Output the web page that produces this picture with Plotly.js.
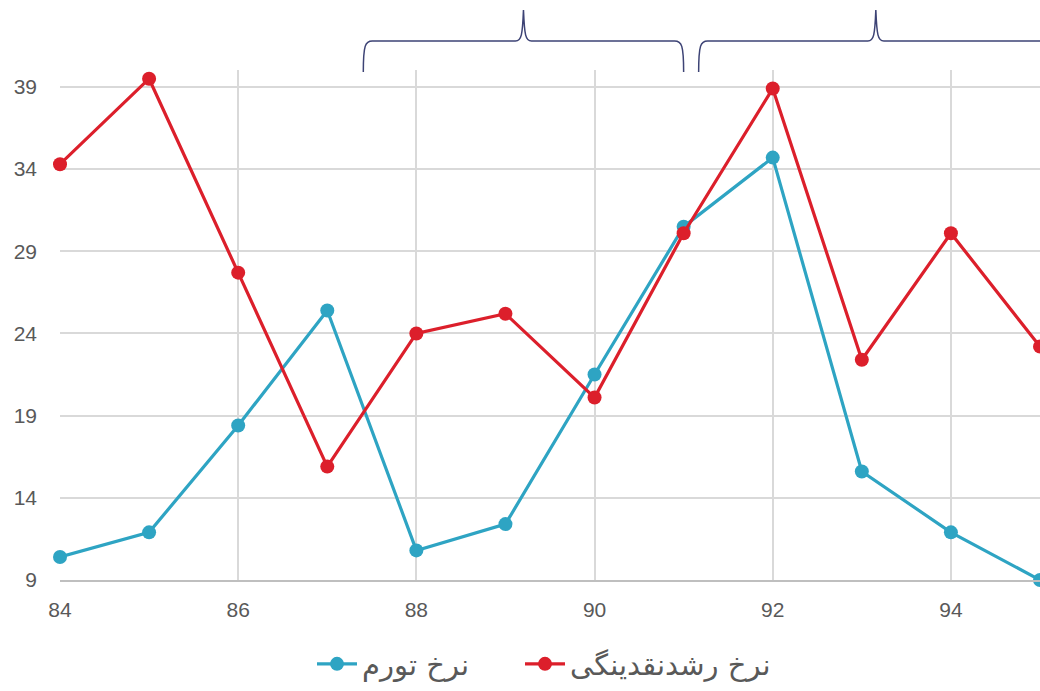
<!DOCTYPE html>
<html>
<head>
<meta charset="utf-8">
<script src="https://cdn.plot.ly/plotly-3.0.1.min.js"></script>
<style>html,body{margin:0;padding:0;background:#fff;}#chart{width:1040px;height:691px;}</style>
</head>
<body>
<div id="chart"></div>
<script>
var years = [84, 85, 86, 87, 88, 89, 90, 91, 92, 93, 94, 95];
var inflation = [10.4, 11.9, 18.4, 25.4, 10.8, 12.4, 21.5, 30.5, 34.7, 15.6, 11.9, 9.0];
var liquidity = [34.3, 39.5, 27.7, 15.9, 24.0, 25.2, 20.1, 30.1, 38.9, 22.4, 30.1, 23.2];
var inflationName = 'نرخ تورم';
var liquidityName = 'نرخ رشدنقدینگی';

// plot geometry (for brace annotations)
var L = 60, R = 1040, T = 70, B = 580, W = 1040, H = 691;
var xmin = 84, xmax = 95, ymin = 9, ymax = 40.03;
function px(x){ return xmin + (x - L) * (xmax - xmin) / (R - L - 1); }
function py(y){ return (B - y) / (B - T); }
function brace(a, m, b){
  var pts = [
    'M', px(a), py(72),
    'C', px(a), py(45), px(a+2), py(41), px(a+9), py(41),
    'L', px(m-8), py(41),
    'C', px(m-2), py(41), px(m-1), py(35), px(m), py(10),
    'C', px(m+1), py(35), px(m+2), py(41), px(m+8), py(41),
    'L', px(b-9), py(41),
    'C', px(b-2), py(41), px(b), py(45), px(b), py(72)
  ];
  var out = '', k = 0;
  while (k < pts.length) {
    if (typeof pts[k] === 'string') { out += pts[k] + ' '; k++; }
    else { out += pts[k].toFixed(4) + ',' + pts[k+1].toFixed(4) + ' '; k += 2; }
  }
  return out.trim();
}

var traces = [
  {
    x: years, y: inflation, name: inflationName, type: 'scatter', mode: 'lines+markers',
    line: {color: '#2ea4c3', width: 3.2}, marker: {color: '#2ea4c3', size: 14},
    cliponaxis: false, legend: 'legend'
  },
  {
    x: years, y: liquidity, name: liquidityName, type: 'scatter', mode: 'lines+markers',
    line: {color: '#dc1f2b', width: 3.2}, marker: {color: '#dc1f2b', size: 14},
    cliponaxis: false, legend: 'legend2'
  }
];

var legendFont = {family: 'DejaVu Sans, Liberation Sans, sans-serif', size: 29, color: '#595959'};
var layout = {
  width: W, height: H,
  margin: {l: L, r: W - R, t: T, b: H - B, pad: 0},
  paper_bgcolor: '#ffffff', plot_bgcolor: '#ffffff',
  font: {family: 'Liberation Sans, Arial, DejaVu Sans, sans-serif', color: '#595959', size: 21},
  showlegend: true,
  legend: {
    orientation: 'h', xref: 'container', yref: 'container',
    x: 312 / W, xanchor: 'left', y: 1 - 664 / H, yanchor: 'middle',
    font: legendFont, itemwidth: 40
  },
  legend2: {
    orientation: 'h', xref: 'container', yref: 'container',
    x: 520 / W, xanchor: 'left', y: 1 - 664 / H, yanchor: 'middle',
    font: legendFont, itemwidth: 40
  },
  xaxis: {
    range: [xmin, xmax], tick0: 84, dtick: 2, showgrid: true, gridcolor: '#d9d9d9', gridwidth: 2,
    zeroline: false, showline: true, linecolor: '#bfbfbf', linewidth: 2,
    ticks: '', ticklabelstandoff: 10, tickfont: {size: 21, color: '#595959'}, fixedrange: true
  },
  yaxis: {
    range: [ymin, ymax], tick0: 9, dtick: 5, showgrid: true, gridcolor: '#d9d9d9', gridwidth: 2,
    zeroline: false, showline: false, ticks: '', ticklabelstandoff: 22,
    tickfont: {size: 21, color: '#595959'}, fixedrange: true
  },
  shapes: [
    {type: 'path', xref: 'x', yref: 'paper', path: brace(363, 523, 683), line: {color: '#3d4375', width: 1.5}},
    {type: 'path', xref: 'x', yref: 'paper', path: brace(698, 875, 1052), line: {color: '#3d4375', width: 1.5}}
  ]
};

Plotly.newPlot('chart', traces, layout, {displayModeBar: false, staticPlot: true});
</script>
</body>
</html>
